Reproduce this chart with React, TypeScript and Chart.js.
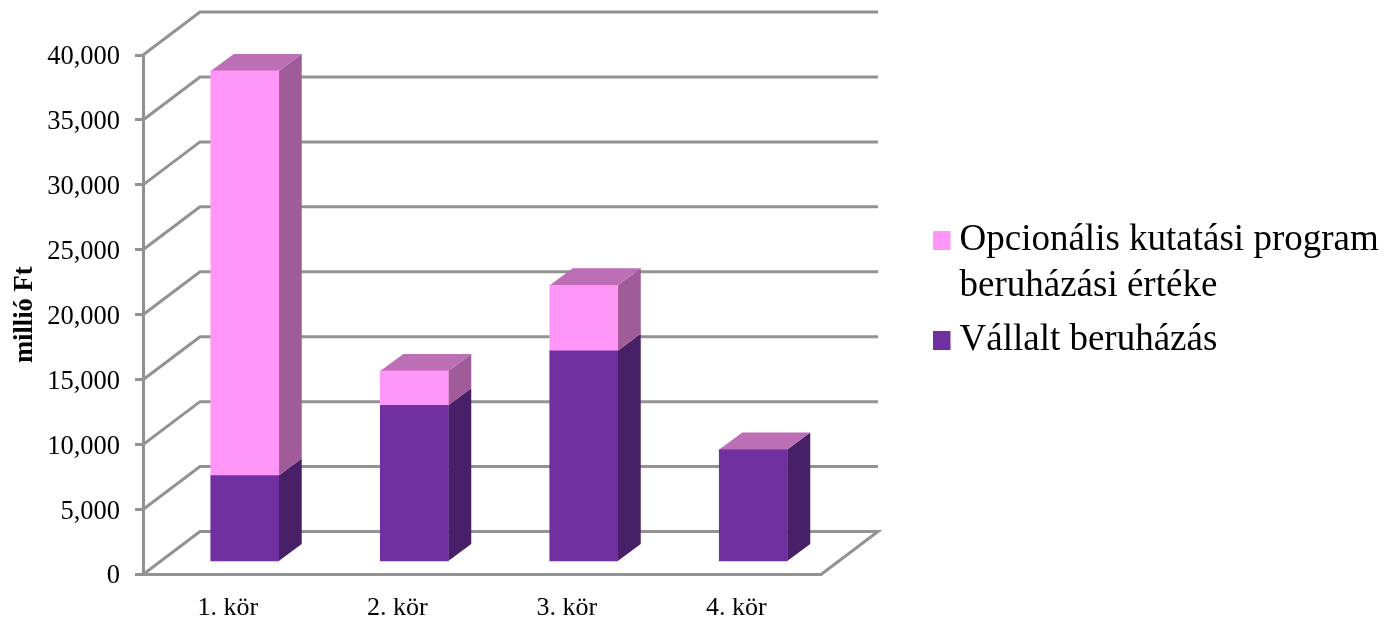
import React, { useEffect, useRef } from "react";
import { Chart, registerables } from "chart.js";

Chart.register(...registerables);

const categories = ["1. kör", "2. kör", "3. kör", "4. kör"];
const committed = [6700, 12100, 16300, 8700];
const optional = [31150, 2650, 5050, 0];
const committedLabel = ["Vállalt beruházás"];
const optionalLabel = ["Opcionális kutatási program", "beruházási értéke"];

const FONT = "'Liberation Serif', 'Times New Roman', serif";
const GRID = "#929292";
const PURPLE = "#7030A0";
const PURPLE_SIDE = "#482068";
const PINK = "#FF96F8";
const PINK_SIDE = "#A05C99";
const TOP = "#BD6FB6";

const WALL_DX = 57;
const WALL_DY = -43;
const BAR_DX = 17;
const BAR_DY = -12;
const SIDE_DX = 23;
const SIDE_DY = -17;

const sideColors = [PURPLE_SIDE, PINK_SIDE];

const poly = (ctx: CanvasRenderingContext2D, pts: number[][], fill: string) => {
  ctx.beginPath();
  pts.forEach(([x, y], i) => (i ? ctx.lineTo(x, y) : ctx.moveTo(x, y)));
  ctx.closePath();
  ctx.fillStyle = fill;
  ctx.fill();
};

const wallPlugin = {
  id: "wall3d",
  afterLayout(chart: any) {
    const l = chart.legend;
    l.left = 933;
    l.right = 1386;
    l.top = 214;
    l.bottom = 500;
    l.width = l.right - l.left;
    l.height = l.bottom - l.top;
  },
  beforeDatasetsDraw(chart: any) {
    const { ctx, scales } = chart;
    const y = scales.y;
    const left = scales.x.left;
    const right = scales.x.right;
    ctx.save();
    ctx.strokeStyle = GRID;
    ctx.lineWidth = 3;
    ctx.lineJoin = "miter";
    y.ticks.forEach((t: any) => {
      const p = y.getPixelForValue(t.value);
      ctx.beginPath();
      ctx.moveTo(left, p);
      ctx.lineTo(left + WALL_DX, p + WALL_DY);
      ctx.lineTo(right + WALL_DX, p + WALL_DY);
      if (t.value === 0) ctx.lineTo(right, p);
      ctx.stroke();
    });
    // 3D sides and caps of the bars, taken from the bar elements
    const metas = [chart.getDatasetMeta(0), chart.getDatasetMeta(1)];
    categories.forEach((_, i) => {
      metas.forEach((m: any, d: number) => {
        const b = m.data[i];
        const h = Math.abs(b.base - b.y);
        if (h < 0.5) return;
        const xr = b.x + b.width / 2 + BAR_DX;
        const yt = b.y + BAR_DY;
        const yb = b.base + BAR_DY;
        poly(ctx, [[xr, yb], [xr + SIDE_DX, yb + SIDE_DY], [xr + SIDE_DX, yt + SIDE_DY], [xr, yt]], sideColors[d]);
      });
      const c = metas[1].data[i];
      const xl = c.x - c.width / 2 + BAR_DX;
      const xr = c.x + c.width / 2 + BAR_DX;
      const yt = c.y + BAR_DY;
      poly(ctx, [[xl, yt], [xr, yt], [xr + SIDE_DX, yt + SIDE_DY], [xl + SIDE_DX, yt + SIDE_DY]], TOP);
    });
    ctx.restore();
  },
  beforeDatasetDraw(chart: any) {
    chart.ctx.save();
    chart.ctx.translate(BAR_DX, BAR_DY);
  },
  afterDatasetDraw(chart: any) {
    chart.ctx.restore();
  },
};

export default function App() {
  const ref = useRef<HTMLCanvasElement>(null);
  useEffect(() => {
    document.body.style.margin = "0";
    document.body.style.background = "#fff";
    const chart = new Chart(ref.current as HTMLCanvasElement, {
      type: "bar",
      plugins: [wallPlugin],
      data: {
        labels: categories,
        datasets: [
          { label: committedLabel.join(" "), data: committed, backgroundColor: PURPLE, barThickness: 68, legendLines: committedLabel } as any,
          { label: optionalLabel.join(" "), data: optional, backgroundColor: PINK, barThickness: 68, legendLines: optionalLabel } as any,
        ],
      },
      options: {
        responsive: false,
        animation: false,
        layout: { padding: { left: 0, top: 55, right: 565, bottom: 0 } },
        plugins: {
          title: { display: false },
          tooltip: { enabled: false },
          legend: {
            display: true,
            position: "chartArea" as any,
            align: "start",
            reverse: true,
            labels: {
              usePointStyle: true,
              boxWidth: 0.01,
              boxHeight: 19,
              padding: 8,
              color: "#000",
              font: { family: FONT, size: 37, lineHeight: 46 / 37 },
              generateLabels: (c: any) =>
                c.data.datasets.map((d: any, i: number) => ({
                  text: d.legendLines,
                  fillStyle: d.backgroundColor,
                  strokeStyle: d.backgroundColor,
                  lineWidth: 0,
                  pointStyle: "rect",
                  datasetIndex: i,
                  hidden: false,
                })),
            },
          },
        },
        scales: {
          x: {
            stacked: true,
            afterFit: (s: any) => { s.height = 42.5; },
            grid: { display: false },
            border: { display: true, color: GRID, width: 3 },
            ticks: { color: "#000", font: { family: FONT, size: 26 }, padding: 10, maxRotation: 0 },
          },
          y: {
            stacked: true,
            min: 0,
            max: 40000,
            afterFit: (s: any) => { s.width = 143; },
            grid: { drawOnChartArea: false, color: GRID, lineWidth: 3, tickLength: 8 },
            border: { display: true, color: GRID, width: 3 },
            title: { display: true, text: "millió Ft", color: "#000", font: { family: FONT, size: 26.5, weight: "bold" }, padding: { top: 9, bottom: 0 } },
            ticks: {
              stepSize: 5000,
              color: "#000",
              padding: 15,
              labelOffset: 2,
              font: { family: FONT, size: 26.5 },
              callback: (v: any) => Number(v).toLocaleString("en-US"),
            },
          },
        },
      },
    } as any);
    return () => chart.destroy();
  }, []);
  return <canvas ref={ref} width={1386} height={617} style={{ display: "block" }} />;
}
